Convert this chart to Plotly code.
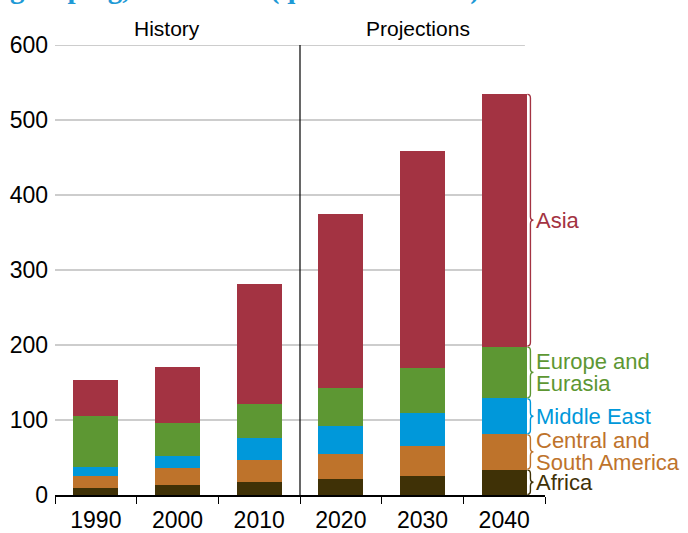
import plotly.graph_objects as go

years = ["1990", "2000", "2010", "2020", "2030", "2040"]
history_count = 3
africa = [10, 14, 18, 21, 26, 34]
central_south_america = [16, 22, 29, 34, 40, 47]
middle_east = [11, 16, 29, 37, 43, 48]
europe_eurasia = [68, 44, 45, 51, 61, 69]
asia = [49, 75, 160, 232, 289, 337]

y_ticks = [0, 100, 200, 300, 400, 500, 600]

series = [
    ("Africa", africa, "#3F3106", ["Africa"]),
    ("Central and South America", central_south_america, "#BE732B", ["Central and", "South America"]),
    ("Middle East", middle_east, "#0098DA", ["Middle East"]),
    ("Europe and Eurasia", europe_eurasia, "#5D9733", ["Europe and", "Eurasia"]),
    ("Asia", asia, "#A33342", ["Asia"]),
]

FONT = "Liberation Sans, Arial, sans-serif"

fig = go.Figure()
for name, vals, color, _ in series:
    fig.add_trace(go.Bar(x=years, y=vals, name=name, marker_color=color,
                         marker_line_width=0, showlegend=False))

shapes = []
annotations = []

# gridlines (stop short of the brace area)
for t in y_ticks[1:]:
    shapes.append(dict(type="line", xref="paper", yref="y", x0=0, x1=0.959, y0=t, y1=t,
                       line=dict(color="#BDBDBD", width=1.3), layer="below"))

# divider between history and projections
div_x = history_count - 0.5
shapes.append(dict(type="line", xref="x", yref="y", x0=div_x, x1=div_x, y0=0, y1=y_ticks[-1],
                   line=dict(color="black", width=1.2)))

# braces + labels for the last bar
x0 = 0.964
w = 0.0125
xm = x0 + w / 2
x1 = x0 + w
d = 5.0
base = 0
last = len(years) - 1
for name, vals, color, lines in series:
    top = base + vals[last]
    yt = top - 0.8
    yb = base + 0.8
    ymid = (top + base) / 2
    dd = min(d, (yt - yb) / 4)
    path = (f"M {x0},{yt} Q {xm},{yt} {xm},{yt-dd} L {xm},{ymid+dd} "
            f"Q {xm},{ymid} {x1},{ymid} Q {xm},{ymid} {xm},{ymid-dd} "
            f"L {xm},{yb+dd} Q {xm},{yb} {x0},{yb}")
    shapes.append(dict(type="path", xref="paper", yref="y", path=path,
                       line=dict(color=color, width=1.4)))
    n = len(lines)
    for i, ln in enumerate(lines):
        shift = (n - 1) / 2 * 22 - i * 22
        annotations.append(dict(x=0.977, y=ymid, xref="paper", yref="y", text=ln,
                                xanchor="left", yanchor="middle", yshift=shift, showarrow=False,
                                font=dict(family=FONT, size=22, color=color)))
    base = top

# section headers
annotations.append(dict(x=0.87, y=y_ticks[-1], xref="x", yref="y", text="History",
                        xanchor="center", yanchor="bottom", showarrow=False, yshift=3,
                        font=dict(family=FONT, size=21, color="black")))
annotations.append(dict(x=3.94, y=y_ticks[-1], xref="x", yref="y", text="Projections",
                        xanchor="center", yanchor="bottom", showarrow=False, yshift=3,
                        font=dict(family=FONT, size=21, color="black")))

# clipped title at very top
annotations.append(dict(x=-0.096, y=1.1256, xref="paper", yref="paper",
                        text="<b>grouping, 1990-2040 (quadrillion Btu)</b>",
                        xanchor="left", yanchor="middle", showarrow=False,
                        font=dict(family="Liberation Serif, Times New Roman, serif", size=29,
                                  color="#1F9AD6")))

fig.update_layout(
    width=688, height=533,
    margin=dict(l=55, r=143, t=45, b=38, autoexpand=False),
    paper_bgcolor="white", plot_bgcolor="white",
    barmode="stack", bargap=0.45,
    shapes=shapes, annotations=annotations,
    font=dict(family=FONT, color="black"),
)
fig.update_xaxes(type="category", range=[-0.5, len(years) - 0.5], automargin=False,
                 showline=True, linecolor="black", linewidth=1.5,
                 ticks="outside", tickson="boundaries", ticklen=7, tickcolor="black",
                 tickwidth=1.3, showgrid=False, tickfont=dict(size=23, family=FONT),
                 ticklabelstandoff=4)
fig.update_yaxes(range=[0, 600], tickvals=y_ticks, showgrid=False, zeroline=False,
                 automargin=False, showline=False, ticks="", tickfont=dict(size=23, family=FONT),
                 ticklabelstandoff=6)

fig.write_html("out.html", config={"displayModeBar": False},
               post_script="document.body.style.margin='0px';")
